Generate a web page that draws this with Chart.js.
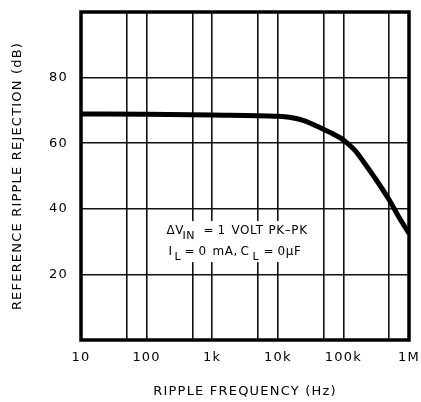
<!DOCTYPE html>
<html>
<head>
<meta charset="utf-8">
<script src="https://cdn.jsdelivr.net/npm/chart.js@4/dist/chart.umd.min.js"></script>
<style>
  html, body { margin: 0; padding: 0; background: #fff; }
  #wrap { width: 421px; height: 402px; }
</style>
</head>
<body>
<div id="wrap"><canvas id="rr"></canvas></div>
<script>
// values
const freqHz = [10, 100, 1000, 10000, 15000, 25000, 50000, 70000, 100000, 150000, 200000, 300000, 500000, 700000, 1000000];
const rejectionDb = [68.9, 68.8, 68.6, 68.2, 67.9, 66.9, 64.2, 62.8, 61, 57.8, 54.5, 49.5, 42.7, 37.5, 32.5];

// grid lines and labels
const xGridValues = [10, 50, 100, 500, 1000, 5000, 10000, 50000, 100000, 500000, 1000000];
const xTickValues = [10, 100, 1000, 10000, 100000, 1000000];
const xTickLabels = ["10", "100", "1k", "10k", "100k", "1M"];
const yGridValues = [0, 20, 40, 60, 80, 100];
const yTickLabels = ["", "20", "40", "60", "80", ""];

const fontFam = "'DejaVu Sans', sans-serif";

// plotter style text is spaced out a bit
const spacingPlugin = {
  id: "spacing",
  beforeDraw(chart) {
    chart.ctx.letterSpacing = "1.2px";
  }
};

// note in the middle of the plot, with white box behind it
const notePlugin = {
  id: "note",
  afterDatasetsDraw(chart) {
    const c = chart.ctx;
    const xs = chart.scales.x, ys = chart.scales.y;
    const x0 = xs.getPixelForValue(2600);
    const y1 = ys.getPixelForValue(33.2);
    const y2 = ys.getPixelForValue(26.8);
    c.save();
    c.fillStyle = "#fff";
    c.fillRect(x0 - 78, y1 - 10, 156, 41);
    c.fillStyle = "#000";
    c.textBaseline = "middle";
    c.textAlign = "left";
    c.letterSpacing = "0.6px";
    const big = "12px " + fontFam, small = "11px " + fontFam;
    const put = (txt, dx, y, f) => { c.font = f; c.fillText(txt, x0 + dx, y); };
    // line 1
    put("ΔV", -73, y1, big);
    put("IN", -57, y1 + 5, small);
    put("=", -36, y1, big);
    put("1", -22, y1, big);
    put("VOLT", -8, y1, big);
    put("PK–PK", 29, y1, big);
    // line 2
    put("I", -71, y2, big);
    put("L", -65, y2 + 5, small);
    put("=", -55, y2, big);
    put("0", -41, y2, big);
    put("mA,", -27, y2, big);
    put("C", 1, y2, big);
    put("L", 13, y2 + 5, small);
    put("=", 24, y2, big);
    put("0µF", 38, y2, big);
    c.restore();
  }
};

// thick frame round the plot
const framePlugin = {
  id: "frame",
  afterDraw(chart) {
    const a = chart.chartArea, c = chart.ctx;
    c.save();
    c.strokeStyle = "#000";
    c.lineWidth = 3.5;
    c.strokeRect(a.left, a.top, a.right - a.left, a.bottom - a.top);
    c.restore();
  }
};

const ctx = document.getElementById("rr");

new Chart(ctx, {
  type: "line",
  data: {
    datasets: [
      {
        data: freqHz.map((f, i) => ({ x: f, y: rejectionDb[i] })),
        borderColor: "#000",
        borderWidth: 5,
        pointRadius: 0,
        cubicInterpolationMode: "monotone",
        fill: false,
      },
    ],
  },
  options: {
    responsive: true,
    maintainAspectRatio: false,
    animation: false,
    layout: { padding: { top: 12, right: 12, left: 0, bottom: 0 } },
    plugins: {
      legend: { display: false },
      tooltip: { enabled: false },
    },
    scales: {
      x: {
        type: "logarithmic",
        min: 10,
        max: 1000000,
        afterBuildTicks: (s) => { s.ticks = xGridValues.map((v) => ({ value: v })); },
        afterFit: (s) => {
          s.height = 62;
          s.paddingLeft = 0;
          s.paddingRight = 0;
        },
        ticks: {
          autoSkip: false,
          maxRotation: 0,
          padding: 10,
          color: "#000",
          font: { family: fontFam, size: 13 },
          callback: (v) => {
            const i = xTickValues.indexOf(v);
            return i >= 0 ? xTickLabels[i] : "";
          },
        },
        grid: { color: "#111", lineWidth: 1.6, drawTicks: false },
        border: { display: false },
        title: {
          display: true,
          text: "RIPPLE FREQUENCY (Hz)",
          color: "#000",
          font: { family: fontFam, size: 13 },
          padding: { top: 0, bottom: 3 },
        },
      },
      y: {
        min: 0,
        max: 100,
        afterBuildTicks: (s) => { s.ticks = yGridValues.map((v) => ({ value: v })); },
        afterFit: (s) => {
          s.width = 81;
          s.paddingTop = 0;
          s.paddingBottom = 0;
        },
        ticks: {
          padding: 13,
          color: "#000",
          font: { family: fontFam, size: 13 },
          callback: (v) => yTickLabels[yGridValues.indexOf(v)],
        },
        grid: { color: "#111", lineWidth: 1.6, drawTicks: false },
        border: { display: false },
        title: {
          display: true,
          text: "REFERENCE RIPPLE REJECTION (dB)",
          color: "#000",
          font: { family: fontFam, size: 13 },
          padding: { top: 10, bottom: 0 },
        },
      },
    },
  },
  plugins: [spacingPlugin, notePlugin, framePlugin],
});
</script>
</body>
</html>
